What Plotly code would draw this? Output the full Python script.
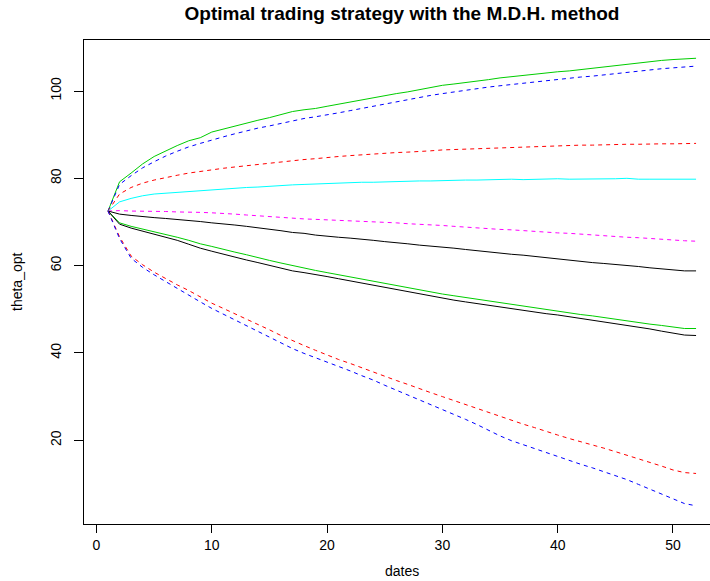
import plotly.graph_objects as go

dates = list(range(1, 53))

green_up = [72.5, 79.2, 81.2, 83.3, 85.0, 86.3, 87.5, 88.6, 89.3, 90.6, 91.3, 91.9, 92.6, 93.3, 93.9, 94.6, 95.3, 95.7, 96.0, 96.5,
            97.0, 97.4, 97.9, 98.5, 99.0, 99.4, 99.8, 100.3, 100.8, 101.3, 101.6, 101.9, 102.3, 102.6, 103.0, 103.3, 103.6, 103.9, 104.1, 104.4,
            104.6, 104.9, 105.2, 105.6, 105.9, 106.2, 106.5, 106.8, 107.0, 107.2, 107.4, 107.5]
blue_up = [72.5, 78.6, 80.6, 82.4, 83.8, 85.1, 86.2, 87.2, 88.0, 88.8, 89.5, 90.2, 90.9, 91.5, 92.0, 92.6, 93.2, 93.7, 94.1, 94.5,
           95.0, 95.5, 96.0, 96.6, 97.1, 97.6, 98.1, 98.5, 99.0, 99.4, 99.8, 100.1, 100.5, 100.9, 101.2, 101.5, 101.8, 102.1, 102.3, 102.6,
           102.9, 103.2, 103.4, 103.7, 104.0, 104.3, 104.6, 104.9, 105.1, 105.3, 105.5, 105.7]
red_up = [72.5, 76.4, 77.9, 78.9, 79.6, 80.2, 80.7, 81.2, 81.6, 81.9, 82.3, 82.6, 82.9, 83.2, 83.5, 83.8, 84.1, 84.3, 84.5, 84.8,
          85.0, 85.2, 85.4, 85.5, 85.7, 85.9, 86.0, 86.1, 86.3, 86.5, 86.6, 86.7, 86.8, 86.9, 87.0, 87.1, 87.2, 87.3, 87.3, 87.4,
          87.5, 87.6, 87.6, 87.7, 87.8, 87.8, 87.8, 87.9, 87.9, 87.9, 88.0, 88.0]
cyan_mid = [72.5, 74.6, 75.4, 76.0, 76.4, 76.6, 76.8, 77.0, 77.1, 77.3, 77.5, 77.7, 77.9, 78.0, 78.2, 78.3, 78.5, 78.6, 78.7, 78.9,
            79.0, 79.0, 79.1, 79.1, 79.2, 79.3, 79.3, 79.4, 79.4, 79.5, 79.5, 79.6, 79.6, 79.7, 79.7, 79.8, 79.7, 79.8, 79.8, 79.9,
            79.8, 79.8, 79.9, 79.8, 79.9, 80.0, 79.8, 79.8, 79.8, 79.8, 79.8, 79.8]
magenta_mid = [72.5, 72.6, 72.5, 72.5, 72.4, 72.4, 72.3, 72.3, 72.2, 72.1, 72.0, 71.8, 71.6, 71.4, 71.2, 71.0, 70.8, 70.7, 70.6, 70.5,
               70.4, 70.3, 70.2, 70.0, 69.9, 69.8, 69.6, 69.5, 69.3, 69.2, 69.0, 68.8, 68.7, 68.5, 68.3, 68.2, 68.0, 67.9, 67.7, 67.5,
               67.4, 67.2, 67.0, 66.9, 66.7, 66.5, 66.4, 66.2, 66.0, 65.9, 65.7, 65.6]
black_up = [72.5, 71.8, 71.5, 71.2, 71.0, 70.8, 70.6, 70.3, 70.1, 69.8, 69.6, 69.3, 69.0, 68.7, 68.3, 68.0, 67.6, 67.4, 67.0, 66.7,
            66.5, 66.3, 66.1, 65.8, 65.5, 65.3, 65.0, 64.7, 64.5, 64.2, 64.0, 63.7, 63.4, 63.1, 62.8, 62.6, 62.4, 62.1, 61.8, 61.5,
            61.3, 61.0, 60.7, 60.5, 60.3, 60.0, 59.8, 59.5, 59.3, 59.0, 58.8, 58.8]
green_low = [72.5, 69.8, 69.0, 68.4, 67.8, 67.1, 66.5, 65.8, 65.0, 64.4, 63.7, 63.1, 62.5, 61.8, 61.2, 60.6, 60.0, 59.5, 58.9, 58.4,
             57.9, 57.4, 56.9, 56.5, 56.0, 55.5, 55.0, 54.5, 54.0, 53.5, 53.1, 52.7, 52.3, 51.9, 51.5, 51.1, 50.8, 50.4, 50.0, 49.6,
             49.2, 48.8, 48.5, 48.1, 47.7, 47.4, 47.0, 46.6, 46.3, 45.9, 45.6, 45.6]
black_low = [72.5, 69.5, 68.6, 67.9, 67.2, 66.5, 65.8, 64.9, 64.0, 63.3, 62.6, 62.0, 61.3, 60.7, 60.1, 59.4, 58.8, 58.4, 58.0, 57.5,
             57.0, 56.5, 56.0, 55.5, 55.0, 54.5, 54.0, 53.5, 53.0, 52.5, 52.1, 51.7, 51.3, 50.9, 50.5, 50.1, 49.7, 49.3, 49.0, 48.7,
             48.3, 47.9, 47.5, 47.1, 46.8, 46.4, 46.0, 45.5, 45.0, 44.5, 44.1, 44.0]
red_low = [72.5, 66.6, 62.2, 60.2, 58.5, 57.0, 55.6, 54.3, 52.8, 51.4, 50.2, 49.0, 47.7, 46.5, 45.3, 44.0, 42.8, 41.7, 40.6, 39.5,
           38.5, 37.6, 36.6, 35.6, 34.6, 33.7, 32.8, 31.8, 30.9, 30.0, 29.1, 28.2, 27.2, 26.3, 25.4, 24.6, 23.7, 22.9, 22.0, 21.2,
           20.4, 19.7, 18.9, 18.2, 17.4, 16.6, 15.8, 14.9, 14.1, 13.2, 12.6, 12.4]
blue_low = [72.5, 66.2, 61.7, 59.6, 57.9, 56.3, 54.8, 53.2, 51.7, 50.2, 48.9, 47.6, 46.3, 45.0, 43.7, 42.4, 41.0, 39.9, 38.9, 38.0,
            36.9, 35.9, 34.8, 33.8, 32.6, 31.5, 30.4, 29.3, 28.2, 27.0, 25.9, 24.8, 23.6, 22.3, 21.0, 19.9, 19.0, 18.1, 17.1, 16.2,
            15.4, 14.5, 13.7, 12.8, 12.0, 11.0, 9.9, 8.8, 7.8, 6.7, 5.5, 5.0]

x_ticks = [0, 10, 20, 30, 40, 50]
y_ticks = [20, 40, 60, 80, 100]

series = [
    (green_up, "#00CD00", "solid"),
    (blue_up, "#0000FF", "4px,4px"),
    (red_up, "#FF0000", "4px,4px"),
    (cyan_mid, "#00FFFF", "solid"),
    (magenta_mid, "#FF00FF", "4px,4px"),
    (black_up, "#000000", "solid"),
    (green_low, "#00CD00", "solid"),
    (black_low, "#000000", "solid"),
    (red_low, "#FF0000", "4px,4px"),
    (blue_low, "#0000FF", "4px,4px"),
]

fig = go.Figure()
for vals, col, dash in series:
    fig.add_trace(go.Scatter(x=dates, y=vals, mode="lines",
                             line=dict(color=col, width=1, dash=dash),
                             showlegend=False, hoverinfo="skip"))

font = "Liberation Sans, Arial, Helvetica, sans-serif"
fig.update_layout(
    width=710, height=581,
    margin=dict(l=84, r=0, t=40, b=57),
    paper_bgcolor="white", plot_bgcolor="white",
    font=dict(family=font, size=14, color="black"),
    title=dict(text="<b>Optimal trading strategy with the M.D.H. method</b>",
               x=402/710, xref="container", xanchor="center",
               y=1-13/581, yref="container", yanchor="middle",
               font=dict(size=19, family=font, color="black")),
    xaxis=dict(range=[-1.084, 53.21], tickvals=x_ticks, ticks="outside", ticklen=8,
               tickcolor="black", showgrid=False, zeroline=False,
               showline=True, linecolor="black", linewidth=1, mirror=True,
               tickfont=dict(size=14)),
    yaxis=dict(range=[0.825, 111.68], tickvals=y_ticks, ticks="outside", ticklen=9,
               tickcolor="black", showgrid=False, zeroline=False,
               showline=True, linecolor="black", linewidth=1, mirror=False,
               tickangle=-90, tickfont=dict(size=14), ticklabelstandoff=7),
    annotations=[
        dict(text="dates", xref="paper", yref="paper", x=(402-84)/626, y=-(571-524)/484,
             xanchor="center", yanchor="middle", showarrow=False, font=dict(size=14)),
        dict(text="theta_opt", xref="paper", yref="paper", x=(17-84)/626, y=0.5,
             xanchor="center", yanchor="middle", showarrow=False, textangle=-90, font=dict(size=14)),
    ],
)

fig.write_html("out.html", config={"displayModeBar": False},
               post_script="document.body.style.margin='0px';document.body.style.overflow='hidden';")
